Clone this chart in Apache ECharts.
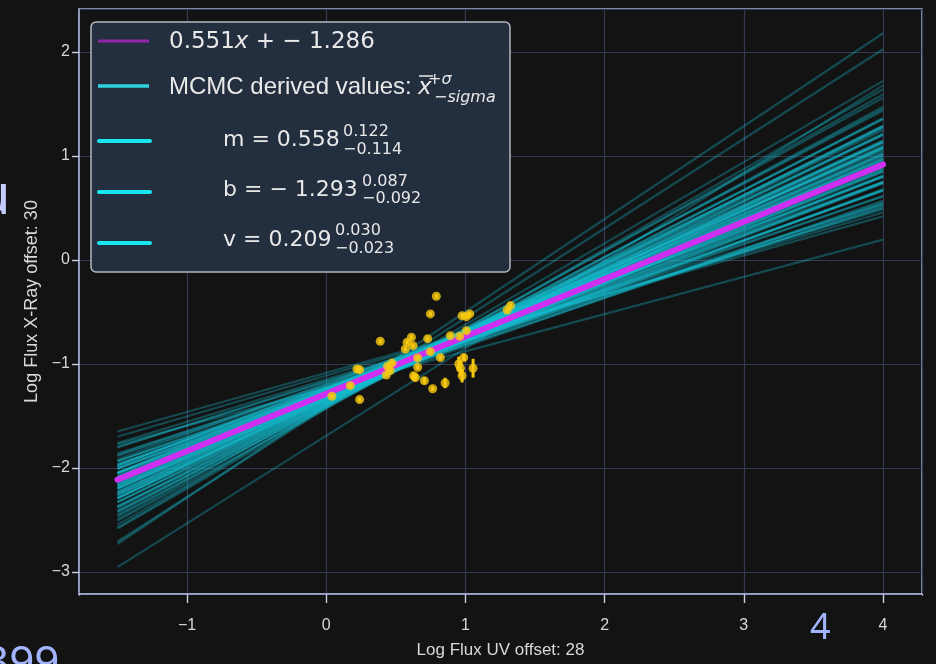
<!DOCTYPE html>
<html>
<head>
<meta charset="utf-8">
<script src="https://cdn.jsdelivr.net/npm/echarts@6/dist/echarts.min.js"></script>
<style>
html,body{margin:0;padding:0;background:#131313;}
#chart{width:936px;height:664px;}
</style>
</head>
<body>
<div id="chart"></div>
<script>
// ---- data ----
const xTicks = [-1, 0, 1, 2, 3, 4];
const yTicks = [-3, -2, -1, 0, 1, 2];
const xRange = [-1.776, 4.28];
const yRange = [-3.212, 2.413];
const lineXRange = [-1.5, 4.0];
const fitM = 0.551;
const fitB = -1.286;
// MCMC sample slopes / intercepts
const mcmcM = [0.431,0.447,0.452,0.463,0.468,0.474,0.479,0.485,0.488,0.493,
  0.497,0.501,0.504,0.509,0.512,0.516,0.519,0.523,0.526,0.529,
  0.532,0.535,0.538,0.541,0.544,0.547,0.549,0.552,0.555,0.557,
  0.560,0.563,0.565,0.568,0.571,0.574,0.577,0.579,0.582,0.585,
  0.588,0.591,0.594,0.597,0.601,0.604,0.608,0.611,0.615,0.619,
  0.623,0.627,0.631,0.636,0.641,0.646,0.652,0.658,0.664,0.671,
  0.678,0.686,0.694,0.703,0.713,0.724,0.737,0.752,0.768,0.781,
  0.893,0.861,0.842,0.358,0.376,0.392,0.409,0.418,0.426,0.441,
  0.458,0.482,0.507,0.531,0.556,0.573,0.599,0.617,0.644,0.669];
const mcmcB = [-1.214,-1.262,-1.196,-1.238,-1.301,-1.227,-1.249,-1.188,-1.276,-1.233,
  -1.309,-1.254,-1.221,-1.287,-1.242,-1.318,-1.266,-1.203,-1.295,-1.258,
  -1.327,-1.241,-1.284,-1.312,-1.231,-1.298,-1.269,-1.336,-1.252,-1.304,
  -1.278,-1.341,-1.259,-1.316,-1.289,-1.246,-1.331,-1.297,-1.352,-1.273,
  -1.319,-1.284,-1.362,-1.306,-1.337,-1.281,-1.349,-1.313,-1.372,-1.326,
  -1.355,-1.301,-1.381,-1.338,-1.364,-1.317,-1.392,-1.346,-1.371,-1.408,
  -1.359,-1.387,-1.412,-1.376,-1.398,-1.423,-1.389,-1.417,-1.431,-1.402,
  -1.392,-1.418,-1.690,-1.236,-1.085,-1.112,-1.148,-1.172,-1.165,-1.223,
  -1.275,-1.262,-1.292,-1.281,-1.303,-1.271,-1.296,-1.343,-1.328,-1.384];
// observed points
const ptX = [0.791,0.748,0.976,1.007,1.031,1.300,1.324,0.388,0.581,0.612,0.568,0.624,0.729,0.892,0.959,1.007,0.748,0.820,0.657,0.473,0.441,0.460,0.432,0.657,0.240,0.221,0.988,0.952,0.964,0.976,1.055,0.628,0.640,0.705,0.854,0.765,0.173,0.041,0.240];
const ptY = [-0.349,-0.519,-0.536,-0.545,-0.519,-0.481,-0.439,-0.782,-0.791,-0.743,-0.856,-0.824,-0.757,-0.728,-0.734,-0.680,-0.882,-0.939,-0.942,-0.990,-1.022,-1.064,-1.106,-1.032,-1.055,-1.048,-0.939,-1.000,-1.041,-1.113,-1.041,-1.113,-1.132,-1.161,-1.183,-1.238,-1.209,-1.311,-1.343];
const ptErr = [0.02,0.02,0.02,0.02,0.02,0.02,0.02,0.02,0.02,0.02,0.02,0.02,0.02,0.02,0.02,0.02,0.02,0.02,0.02,0.02,0.02,0.02,0.02,0.02,0.02,0.02,0.03,0.07,0.07,0.065,0.09,0.03,0.03,0.03,0.05,0.02,0.02,0.02,0.02];

// ---- build ----
const NARROW = '"Liberation Sans Narrow","Liberation Sans",Arial,sans-serif';
const MATH = '"DejaVu Sans",sans-serif';
const BG = '#131313';
const fmt = v => String(v).replace('-', '\u2212');

const mcmcLines = mcmcM.map((m, i) => ({
  coords: lineXRange.map(x => [x, m * x + mcmcB[i]])
}));
const fitData = lineXRange.map(x => [x, fitM * x + fitB]);
const pts = ptX.map((x, i) => [x, ptY[i], ptErr[i]]);

const txt = '#e8e8e8';
const legendGraphics = [
  // hide the automatic end ticks at the frame corners
  {type:'rect', shape:{x:76.5,y:595.6,width:5,height:11}, style:{fill:BG}, z:120},
  {type:'rect', shape:{x:919.5,y:595.6,width:5,height:11}, style:{fill:BG}, z:120},
  {type:'rect', shape:{x:68,y:6.5,width:10.2,height:5}, style:{fill:BG}, z:120},
  {type:'rect', shape:{x:68,y:591.5,width:10.2,height:5}, style:{fill:BG}, z:120},
  // legend
  {type:'rect', shape:{x:91,y:22,width:419,height:250,r:5}, style:{fill:'#232e3e',stroke:'#b4b8c0',lineWidth:1.5}, z:100},
  {type:'line', shape:{x1:98,y1:41,x2:149,y2:41}, style:{stroke:'#9226a8',lineWidth:3}, z:101},
  {type:'line', shape:{x1:98,y1:86,x2:149,y2:86}, style:{stroke:'#2fd3e0',lineWidth:3.5}, z:101},
  {type:'line', shape:{x1:99,y1:141,x2:150,y2:141}, style:{stroke:'#18e6ee',lineWidth:4,lineCap:'round'}, z:101},
  {type:'line', shape:{x1:99,y1:192,x2:150,y2:192}, style:{stroke:'#18e6ee',lineWidth:4,lineCap:'round'}, z:101},
  {type:'line', shape:{x1:99,y1:243,x2:150,y2:243}, style:{stroke:'#18e6ee',lineWidth:4,lineCap:'round'}, z:101},
  {type:'text', x:169, y:42, z:102, style:{
    text:'{a|0.551}{i|x}{a| + \u2212 1.286}', fill:txt, verticalAlign:'middle',
    rich:{a:{fontFamily:MATH,fontSize:23,fill:txt}, i:{fontFamily:MATH,fontSize:23,fontStyle:'italic',fill:txt}}
  }},
  {type:'text', x:169, y:87, z:102, style:{text:'MCMC derived values:', fill:txt, font:'24px "Liberation Sans",Arial,sans-serif', verticalAlign:'middle'}},
  {type:'text', x:418, y:88, z:102, style:{text:'x', fill:txt, font:'italic 23px '+MATH, verticalAlign:'middle'}},
  {type:'line', shape:{x1:419,y1:76,x2:433,y2:76}, style:{stroke:txt,lineWidth:1.5}, z:102},
  {type:'text', x:428, y:80, z:102, style:{text:'{a|+}{i|\u03c3}', verticalAlign:'middle',
    rich:{a:{fontFamily:MATH,fontSize:16,fill:txt}, i:{fontFamily:MATH,fontSize:16,fontStyle:'italic',fill:txt}}}},
  {type:'text', x:434, y:98, z:102, style:{text:'{a|\u2212}{i|sigma}', verticalAlign:'middle',
    rich:{a:{fontFamily:MATH,fontSize:16,fill:txt}, i:{fontFamily:MATH,fontSize:16,fontStyle:'italic',fill:txt}}}},
  // m
  {type:'text', x:223, y:140, z:102, style:{text:'m = 0.558', fill:txt, font:'22px '+MATH, verticalAlign:'middle'}},
  {type:'text', x:343, y:132, z:102, style:{text:'0.122', fill:txt, font:'16px '+MATH, verticalAlign:'middle'}},
  {type:'text', x:343, y:150, z:102, style:{text:'\u22120.114', fill:txt, font:'16px '+MATH, verticalAlign:'middle'}},
  // b
  {type:'text', x:223, y:190, z:102, style:{text:'b = \u2212 1.293', fill:txt, font:'22px '+MATH, verticalAlign:'middle'}},
  {type:'text', x:362, y:182, z:102, style:{text:'0.087', fill:txt, font:'16px '+MATH, verticalAlign:'middle'}},
  {type:'text', x:362, y:199, z:102, style:{text:'\u22120.092', fill:txt, font:'16px '+MATH, verticalAlign:'middle'}},
  // v
  {type:'text', x:223, y:240, z:102, style:{text:'v = 0.209', fill:txt, font:'22px '+MATH, verticalAlign:'middle'}},
  {type:'text', x:335, y:231, z:102, style:{text:'0.030', fill:txt, font:'16px '+MATH, verticalAlign:'middle'}},
  {type:'text', x:335, y:249, z:102, style:{text:'\u22120.023', fill:txt, font:'16px '+MATH, verticalAlign:'middle'}},
  // stray overlay glyphs around the figure
  {type:'text', x:-24, y:226, z:110, style:{text:'u', fill:'#c5cdff', font:'56px "Noto Sans",sans-serif', verticalAlign:'bottom'}},
  {type:'text', x:-16, y:642, z:110, style:{text:'399', fill:'#a3b4ff', font:'44px "Noto Sans",sans-serif', verticalAlign:'top'}},
  {type:'text', x:810, y:611, z:110, style:{text:'4', fill:'#a3b4ff', font:'36px "Noto Sans",sans-serif', verticalAlign:'top'}}
];

const chart = echarts.init(document.getElementById('chart'), null, {renderer:'canvas'});
chart.setOption({
  backgroundColor:BG,
  animation:false,
  grid:{left:79, right:14, top:9, bottom:70, show:true, borderColor:'#a9aed6', borderWidth:1.5, backgroundColor:'transparent'},
  xAxis:{
    type:'value', min:xRange[0], max:xRange[1], minInterval:1, maxInterval:1,
    name:'Log Flux UV offset: 28', nameLocation:'middle', nameGap:48,
    nameTextStyle:{color:'#d8d8d8', fontSize:17, fontFamily:NARROW},
    axisLine:{show:true, onZero:false, lineStyle:{color:'#a9aed6', width:1.5}},
    axisTick:{show:true, inside:false, length:9, lineStyle:{color:'#c8cce0', width:1.4}},
    axisLabel:{customValues:xTicks, color:'#d8d8d8', fontSize:16, fontFamily:NARROW, margin:24, formatter:fmt},
    splitLine:{show:true, lineStyle:{color:'#343a52', width:1.2}}
  },
  yAxis:{
    type:'value', min:yRange[0], max:yRange[1], minInterval:1, maxInterval:1,
    name:'Log Flux X-Ray offset: 30', nameLocation:'middle', nameGap:34,
    nameTextStyle:{color:'#d8d8d8', fontSize:18, fontFamily:NARROW},
    axisLine:{show:true, onZero:false, lineStyle:{color:'#a9aed6', width:1.5}},
    axisTick:{show:true, inside:false, length:7, lineStyle:{color:'#c8cce0', width:1.4}},
    axisLabel:{customValues:yTicks, color:'#d8d8d8', fontSize:16, fontFamily:NARROW, margin:9, formatter:fmt},
    splitLine:{show:true, lineStyle:{color:'#343a52', width:1.2}}
  },
  series:[
    {type:'lines', coordinateSystem:'cartesian2d', data:mcmcLines, silent:true, z:2,
      lineStyle:{color:'#17becf', width:2.2, opacity:0.32}},
    {type:'line', data:fitData, symbol:'none', silent:true, z:3,
      lineStyle:{color:'#cf2ff0', width:6, cap:'round'}},
    {type:'custom', data:pts, z:4, silent:true,
      renderItem:function(params, api){
        const x = api.value(0), y = api.value(1), e = api.value(2);
        const p1 = api.coord([x, y + e]), p2 = api.coord([x, y - e]);
        return {type:'line', shape:{x1:p1[0],y1:p1[1],x2:p2[0],y2:p2[1]}, style:{stroke:'#f7c90f', lineWidth:3}};
      }},
    {type:'scatter', data:pts, symbolSize:9, z:5, silent:true,
      itemStyle:{color:'#f7c90f'}}
  ],
  graphic:legendGraphics
});
</script>
</body>
</html>
